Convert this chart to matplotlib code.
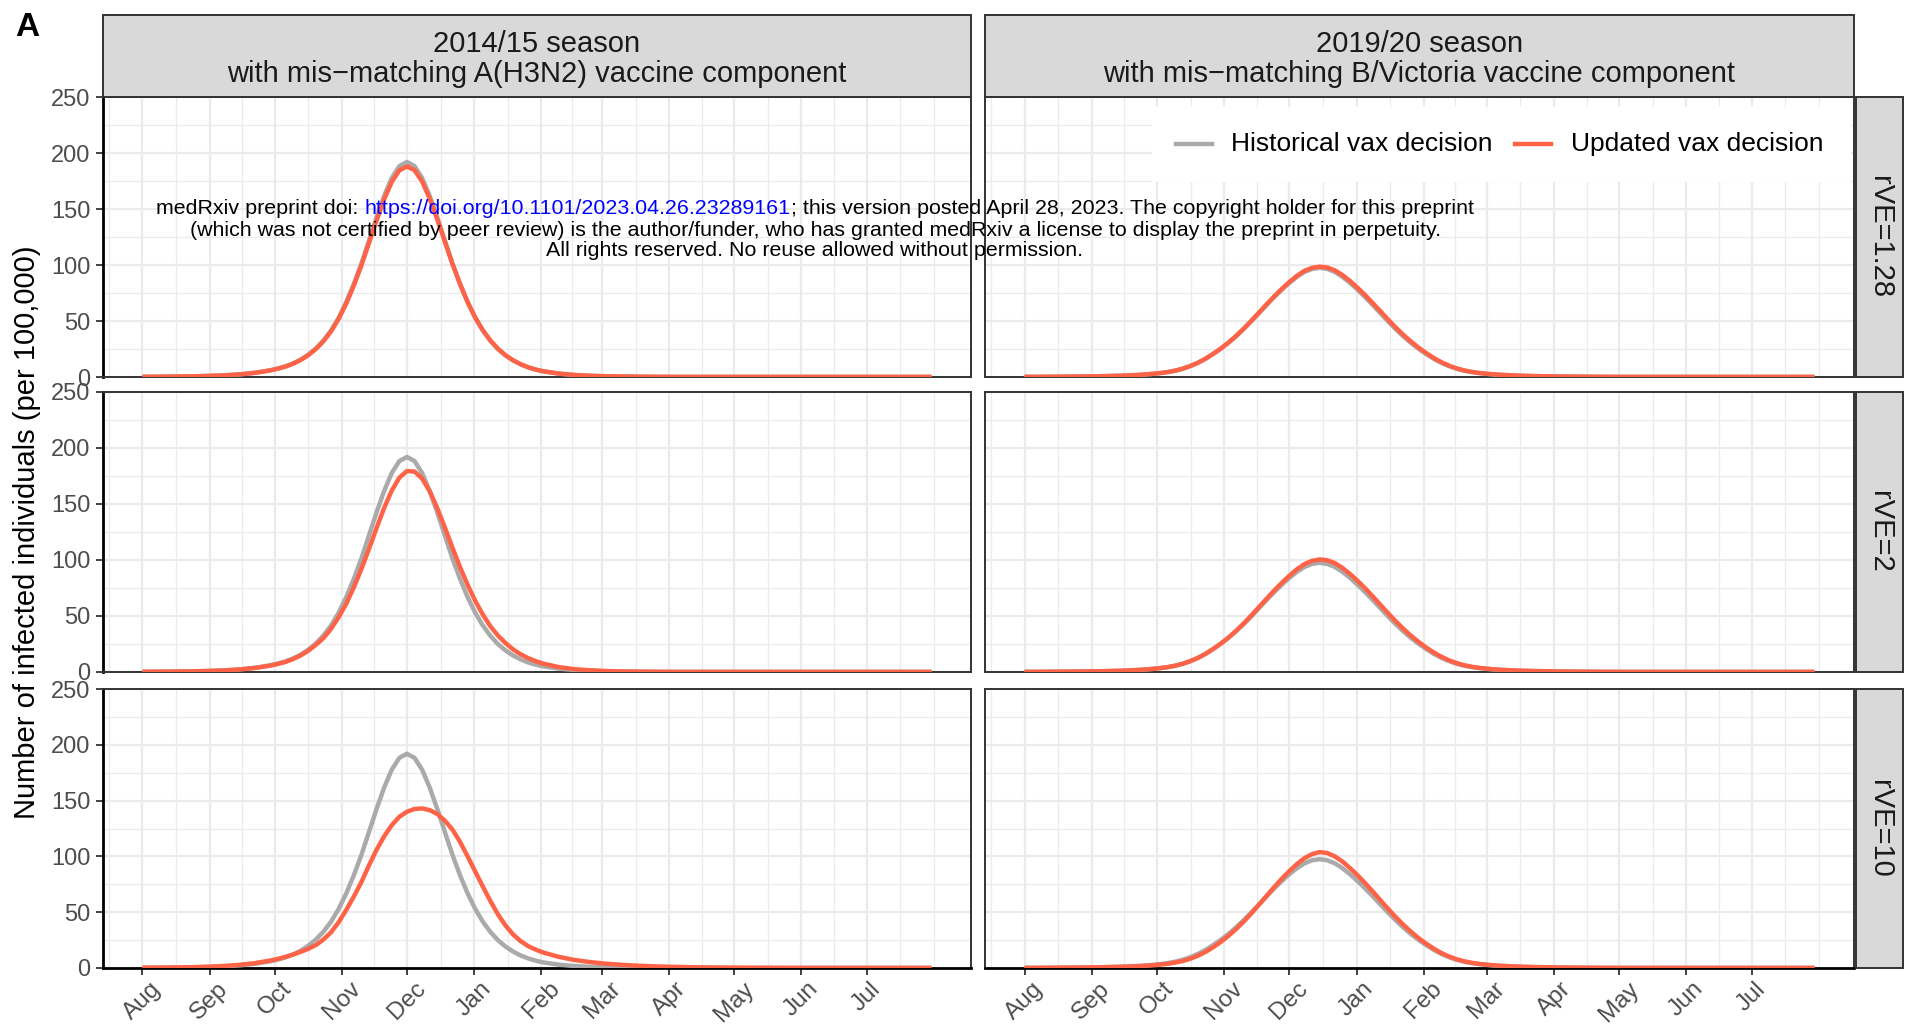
import numpy as np
import pandas as pd
import matplotlib
matplotlib.use('Agg')
import matplotlib.pyplot as plt
import matplotlib.dates as mdates
from matplotlib.patches import Rectangle
from matplotlib.lines import Line2D

plt.rcParams['font.family'] = ['Liberation Sans', 'DejaVu Sans']

# ---------------- data (days since 1 August of the season) ----------------
days_1415 = [0, 3, 10, 17, 24, 31, 38, 45, 52,
             59, 62.5, 66, 69.5, 73, 76.5, 80, 83.5, 87, 90.5, 94, 97.5, 101, 104.5, 108, 111.5,
             115, 118.5, 122, 125.5, 129, 132.5, 136, 139.5, 143, 146.5, 150, 153.5, 157, 160.5,
             164, 167.5, 171, 174.5, 178, 181.5, 185,
             192, 199, 206, 213, 220, 227, 234, 241, 248, 255, 262, 269, 276, 283, 290, 297,
             304, 311, 318, 325, 332, 339, 346, 353, 360, 364]

hist_1415 = [0.2, 0.22, 0.3, 0.45, 0.65, 1.0, 1.5, 2.4, 3.8,
             6.0, 7.6, 9.5, 12.1, 15.5, 19.9, 25.5, 32.6, 41.5, 52.9, 66.8, 83.1, 101.4, 121.9, 142.5, 161.7,
             177.7, 188.3, 192.0, 188.3, 177.7, 161.7, 142.5, 121.9, 101.4, 83.1, 66.8, 52.9, 41.5, 32.3,
             24.9, 19.2, 14.7, 11.2, 8.5, 6.5, 5.0,
             3.0, 1.8, 1.1, 0.7, 0.45, 0.3, 0.2, 0.15, 0.1, 0.1, 0.1, 0.1, 0.1, 0.1, 0.1, 0.1,
             0.1, 0.1, 0.1, 0.1, 0.1, 0.1, 0.1, 0.1, 0.1, 0.1]

upd_1415_rve128 = [0.2, 0.22, 0.3, 0.45, 0.65, 1.0, 1.5, 2.4, 3.7,
                   5.9, 7.5, 9.3, 11.9, 15.2, 19.5, 25.0, 31.9, 40.7, 51.9, 65.5, 81.6, 99.6, 119.7, 139.8, 158.6,
                   174.2, 184.5, 188.0, 184.7, 174.6, 159.2, 140.8, 120.8, 100.9, 83.0, 66.9, 53.1, 41.8, 32.6,
                   25.2, 19.4, 14.9, 11.4, 8.7, 6.6, 5.1,
                   3.1, 1.85, 1.15, 0.72, 0.47, 0.31, 0.21, 0.15, 0.1, 0.1, 0.1, 0.1, 0.1, 0.1, 0.1, 0.1,
                   0.1, 0.1, 0.1, 0.1, 0.1, 0.1, 0.1, 0.1, 0.1, 0.1]

upd_1415_rve2 = [0.2, 0.21, 0.3, 0.43, 0.62, 0.95, 1.45, 2.3, 3.6,
                 5.7, 7.2, 9.0, 11.6, 14.8, 19.0, 24.3, 30.3, 38.6, 48.9, 60.9, 75.6, 92.0, 109.9, 128.6, 146.5,
                 162.0, 173.5, 179.4, 179.0, 172.7, 161.4, 146.3, 129.0, 111.0, 93.6, 77.7, 63.5, 51.3, 40.8,
                 32.5, 25.8, 20.1, 15.8, 12.3, 9.6, 7.4,
                 4.4, 2.6, 1.6, 0.95, 0.55, 0.35, 0.22, 0.15, 0.1, 0.1, 0.1, 0.1, 0.1, 0.1, 0.1, 0.1,
                 0.1, 0.1, 0.1, 0.1, 0.1, 0.1, 0.1, 0.1, 0.1, 0.1]

upd_1415_rve10 = [0.3, 0.3, 0.4, 0.55, 0.8, 1.2, 1.9, 2.9, 4.4,
                  6.7, 8.2, 10.0, 12.1, 14.5, 17.2, 20.5, 25.6, 32.0, 41.0, 52.0, 64.0, 77.0, 92.0, 106.0, 118.0,
                  128.0, 135.5, 140.0, 142.5, 143.0, 141.5, 138.0, 132.0, 124.0, 113.0, 100.0, 86.5, 73.0, 60.0,
                  48.0, 38.0, 30.0, 24.0, 19.5, 16.4, 13.8,
                  10.0, 7.3, 5.4, 4.0, 3.0, 2.2, 1.6, 1.2, 0.9, 0.65, 0.5, 0.38, 0.28, 0.22, 0.17, 0.13,
                  0.1, 0.1, 0.1, 0.1, 0.1, 0.1, 0.1, 0.1, 0.1, 0.1]

days_1920 = [0, 3, 10, 17, 24, 31, 38, 45,
             52, 55.5, 59, 62.5, 66, 69.5, 73, 76.5, 80, 83.5, 87, 90.5, 94, 97.5, 101, 104.5,
             108, 111.5, 115, 118.5, 122, 125.5, 129, 132.5, 136, 139.5, 143, 146.5, 150, 153.5,
             157, 160.5, 164, 167.5, 171, 174.5, 178, 181.5, 185, 188.5, 192, 195.5, 199, 202.5,
             206, 209.5, 213, 216.5, 220,
             227, 234, 241, 248, 255, 262, 269, 276, 283, 290, 297, 304, 311, 318, 325, 332,
             339, 346, 353, 360, 364]

hist_1920 = [0.15, 0.15, 0.2, 0.3, 0.4, 0.6, 0.83, 1.2,
             1.8, 2.2, 2.8, 3.5, 4.4, 5.7, 7.4, 9.8, 12.7, 16.3, 20.6, 25.3, 30.5, 36.4, 42.8, 49.7,
             56.9, 64.2, 71.2, 77.8, 84.0, 89.4, 93.8, 96.5, 97.5, 96.5, 93.8, 89.4, 84.0, 77.8,
             71.2, 64.2, 56.9, 49.7, 42.8, 36.4, 30.5, 25.3, 20.6, 16.3, 12.7, 9.8, 7.4, 5.7,
             4.4, 3.5, 2.8, 2.2, 1.8,
             1.2, 0.83, 0.6, 0.4, 0.3, 0.2, 0.15, 0.1, 0.1, 0.1, 0.1, 0.1, 0.1, 0.1, 0.1, 0.1,
             0.1, 0.1, 0.1, 0.1, 0.1]

upd_1920_rve128 = [0.15, 0.15, 0.2, 0.3, 0.4, 0.6, 0.83, 1.2,
                   1.8, 2.3, 2.8, 3.5, 4.4, 5.7, 7.5, 9.9, 12.8, 16.5, 20.8, 25.5, 30.8, 36.7, 43.2, 50.2,
                   57.5, 64.8, 71.9, 78.6, 84.8, 90.3, 94.8, 97.5, 98.5, 97.8, 95.2, 91.0, 85.7, 79.6,
                   73.0, 65.9, 58.7, 51.3, 44.3, 37.7, 31.8, 26.3, 21.5, 17.1, 13.3, 10.2, 7.8, 5.9,
                   4.6, 3.6, 2.9, 2.4, 1.9,
                   1.28, 0.87, 0.62, 0.41, 0.31, 0.21, 0.16, 0.1, 0.1, 0.1, 0.1, 0.1, 0.1, 0.1, 0.1, 0.1,
                   0.1, 0.1, 0.1, 0.1, 0.1]

upd_1920_rve2 = [0.15, 0.15, 0.2, 0.3, 0.4, 0.6, 0.8, 1.15,
                 1.78, 2.22, 2.75, 3.44, 4.36, 5.64, 7.4, 9.75, 12.7, 16.3, 20.7, 25.4, 30.8, 36.8, 43.3, 50.4,
                 57.9, 65.3, 72.6, 79.5, 85.9, 91.7, 96.3, 99.3, 100.5, 99.8, 97.2, 92.9, 87.5, 81.3,
                 74.6, 67.4, 60.0, 52.5, 45.4, 38.6, 32.5, 27.0, 22.0, 17.5, 13.7, 10.5, 8.0, 6.1,
                 4.7, 3.7, 3.0, 2.4, 1.94,
                 1.3, 0.9, 0.64, 0.43, 0.32, 0.22, 0.16, 0.1, 0.1, 0.1, 0.1, 0.1, 0.1, 0.1, 0.1, 0.1,
                 0.1, 0.1, 0.1, 0.1, 0.1]

upd_1920_rve10 = [0.14, 0.15, 0.2, 0.28, 0.38, 0.55, 0.78, 1.1,
                  1.56, 1.95, 2.4, 3.0, 3.8, 4.9, 6.3, 8.4, 11.1, 14.5, 18.7, 23.5, 28.9, 34.9, 41.6, 48.9,
                  56.6, 64.5, 72.4, 79.9, 86.8, 93.1, 98.4, 102.0, 103.9, 103.0, 100.0, 95.4, 89.5, 83.0,
                  75.9, 68.4, 60.7, 53.0, 45.7, 38.8, 32.6, 26.9, 21.9, 17.4, 13.5, 10.4, 7.9, 6.0,
                  4.7, 3.7, 2.96, 2.4, 1.92,
                  1.3, 0.88, 0.62, 0.42, 0.31, 0.21, 0.16, 0.1, 0.1, 0.1, 0.1, 0.1, 0.1, 0.1, 0.1, 0.1,
                  0.1, 0.1, 0.1, 0.1, 0.1]

season_titles = ["2014/15 season\nwith mis\u2212matching A(H3N2) vaccine component",
                 "2019/20 season\nwith mis\u2212matching B/Victoria vaccine component"]
season_start = ["2014-08-01", "2019-08-01"]
rve_labels = ["rVE=1.28", "rVE=2", "rVE=10"]
month_labels = ["Aug", "Sep", "Oct", "Nov", "Dec", "Jan", "Feb", "Mar", "Apr", "May", "Jun", "Jul"]
y_ticks = [0, 50, 100, 150, 200, 250]
y_minor = [25, 75, 125, 175, 225]
legend_labels = ["Historical vax decision", "Updated vax decision"]
ylabel = "Number of infected individuals (per 100,000)"

season_days = [days_1415, days_1920]
hist_series = [hist_1415, hist_1920]
upd_series = [[upd_1415_rve128, upd_1415_rve2, upd_1415_rve10],
              [upd_1920_rve128, upd_1920_rve2, upd_1920_rve10]]

GREY = "#AAAAAA"
RED = "#FF6347"
BORDER = "#333333"
GRID = "#EBEBEB"

# ---------------- layout (pixels) ----------------
W, H = 1905, 1025
fig = plt.figure(figsize=(W / 100, H / 100), dpi=100)
col_x = [(103, 971), (985, 1854)]
row_y = [(97, 377), (392, 672), (689, 968)]
strip_top = (15, 97)
strip_right = (1856, 1903)


def frect(x0, y0, x1, y1):
    return [x0 / W, 1 - y1 / H, (x1 - x0) / W, (y1 - y0) / H]


for c in range(2):
    start = pd.Timestamp(season_start[c])
    xd = mdates.date2num(start + pd.to_timedelta(season_days[c], unit="D"))
    x_lo = mdates.date2num(start) - 0.05 * 364
    x_hi = mdates.date2num(start + pd.Timedelta(days=364)) + 0.05 * 364
    majors = mdates.date2num(pd.date_range(start, periods=12, freq="MS"))
    ext = mdates.date2num(pd.date_range(start - pd.Timedelta(days=31), periods=14, freq="MS"))
    minors = list((ext[:-1] + ext[1:]) / 2) + [ext[-1]]
    for r in range(3):
        ax = fig.add_axes(frect(col_x[c][0], row_y[r][0], col_x[c][1], row_y[r][1]))
        ax.set_axisbelow(True)
        ax.plot(xd, hist_series[c], color=GREY, lw=3.2, solid_joinstyle="round",
                solid_capstyle="butt", zorder=3)
        ax.plot(xd, upd_series[c][r], color=RED, lw=3.2, solid_joinstyle="round",
                solid_capstyle="butt", zorder=4)
        ax.set_xlim(x_lo, x_hi)
        ax.set_ylim(0, 250)
        ax.set_xticks(majors)
        ax.set_xticks(minors, minor=True)
        ax.set_yticks(y_ticks)
        ax.set_yticks(y_minor, minor=True)
        ax.grid(which="major", color=GRID, lw=1.6)
        ax.grid(which="minor", color=GRID, lw=0.9)
        ax.tick_params(which="minor", length=0)
        for s in ax.spines.values():
            s.set_color(BORDER)
            s.set_linewidth(1.4)
        if c == 0:
            ax.set_yticklabels([str(v) for v in y_ticks])
            ax.tick_params(axis="y", which="major", length=5, width=1.3, color=BORDER,
                           labelsize=17, labelcolor="#4D4D4D", pad=4)
            ax.spines["left"].set_color("black")
            ax.spines["left"].set_linewidth(2.0)
        else:
            ax.tick_params(axis="y", which="major", length=0, labelleft=False)
        if r == 2:
            ax.set_xticklabels(month_labels, rotation=45, ha="center", va="top")
            ax.tick_params(axis="x", which="major", length=5, width=1.3, color=BORDER,
                           labelsize=17.5, labelcolor="#4D4D4D", pad=2)
            ax.spines["bottom"].set_color("black")
            ax.spines["bottom"].set_linewidth(2.0)
        else:
            ax.tick_params(axis="x", which="major", length=0, labelbottom=False)

    # top strip
    x0, x1 = col_x[c]
    fig.add_artist(Rectangle((x0 / W, 1 - strip_top[1] / H), (x1 - x0) / W,
                             (strip_top[1] - strip_top[0]) / H, transform=fig.transFigure,
                             facecolor="#D9D9D9", edgecolor=BORDER, lw=1.4, zorder=1))
    fig.text((x0 + x1) / 2 / W, 1 - 59 / H, season_titles[c],
             ha="center", va="center", fontsize=21, color="#1A1A1A", linespacing=1.1, zorder=2)

# right strips
for r in range(3):
    y0, y1 = row_y[r]
    fig.add_artist(Rectangle((strip_right[0] / W, 1 - y1 / H), (strip_right[1] - strip_right[0]) / W,
                             (y1 - y0) / H, transform=fig.transFigure,
                             facecolor="#D9D9D9", edgecolor=BORDER, lw=1.4, zorder=1))
    fig.text((strip_right[0] + strip_right[1]) / 2 / W, 1 - (y0 + y1) / 2 / H, rve_labels[r],
             ha="center", va="center", rotation=-90, fontsize=21, color="#1A1A1A", zorder=2)

# legend inside the top-right panel
fig.add_artist(Rectangle((1152 / W, 1 - 182 / H), (1851 - 1152) / W, (182 - 107) / H,
                         transform=fig.transFigure, facecolor="white", edgecolor="none", zorder=1))
ly = 1 - 144 / H
for (k0, k1, tx), col, lab in zip([(1176, 1212, 1231), (1515, 1551, 1571)], [GREY, RED], legend_labels):
    fig.add_artist(Line2D([k0 / W, k1 / W], [ly, ly], transform=fig.transFigure, color=col, lw=3.2, zorder=2))
    fig.text(tx / W, ly, lab, ha="left", va="center", fontsize=19, color="black", zorder=2)

# y label and panel letter
fig.text(27 / W, 1 - 532 / H, ylabel, rotation=90, ha="center", va="center", fontsize=21, color="black")
fig.text(27 / W, 1 - 27 / H, "A", ha="center", va="center", fontsize=24, fontweight="bold")

# medRxiv watermark
wm_size = 15.4
cx = 815
p1 = "medRxiv preprint doi: "
p2 = "https://doi.org/10.1101/2023.04.26.23289161"
p3 = "; this version posted April 28, 2023. The copyright holder for this preprint"
renderer = fig.canvas.get_renderer()
ts = [fig.text(0, 1 - 209 / H, p, fontsize=wm_size, ha="left", va="center", zorder=10,
               color=col) for p, col in zip([p1, p2, p3], ["black", "blue", "black"])]
widths = [t.get_window_extent(renderer).width for t in ts]
xs = cx - sum(widths) / 2
for t, w in zip(ts, widths):
    t.set_x(xs / W)
    xs += w
fig.text(cx / W, 1 - 230 / H,
         "(which was not certified by peer review) is the author/funder, who has granted medRxiv a license to display the preprint in perpetuity.",
         fontsize=wm_size, ha="center", va="center", zorder=10)
fig.text(cx / W, 1 - 251 / H, "All rights reserved. No reuse allowed without permission.",
         fontsize=wm_size, ha="center", va="center", zorder=10)

fig.savefig("out.png", dpi=100)
